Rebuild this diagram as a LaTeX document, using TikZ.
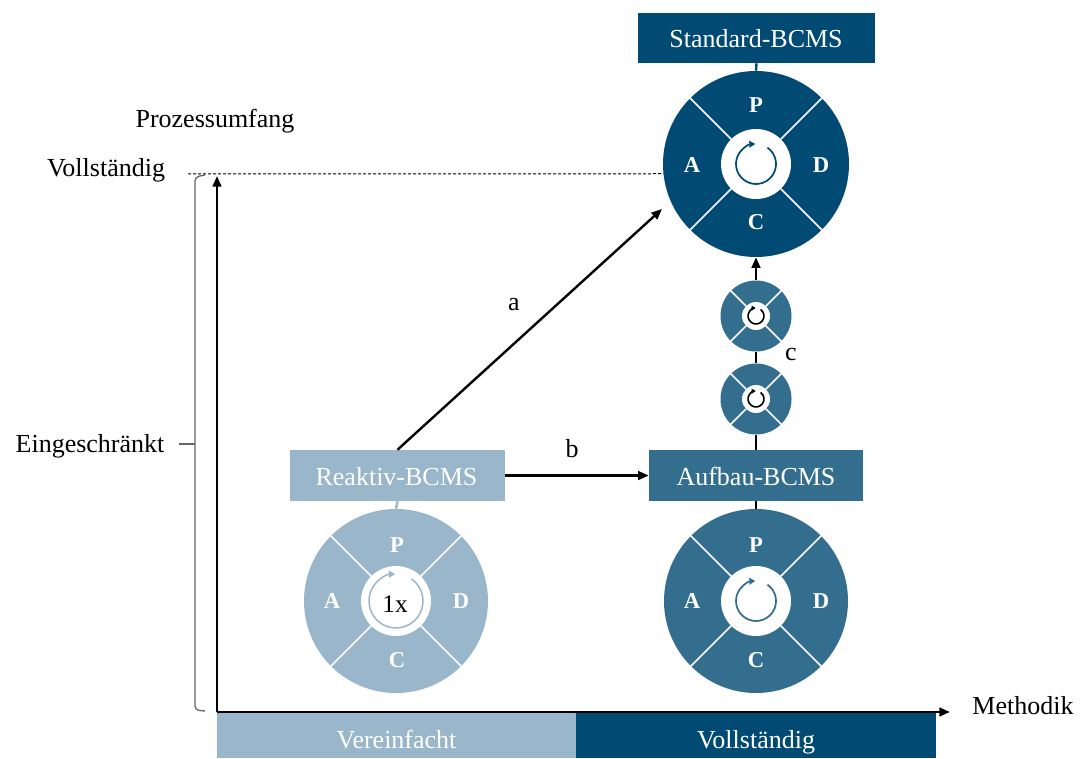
\documentclass[tikz,border=0pt]{standalone}
\usepackage{fontspec}
\setmainfont{Liberation Serif}
\usetikzlibrary{arrows.meta,calc}
\definecolor{bdark}{HTML}{004A73}
\definecolor{bmid}{HTML}{336E8F}
\definecolor{blight}{HTML}{99B6CA}
\definecolor{brgray}{HTML}{666666}
\begin{document}
\begin{tikzpicture}[x=0.75pt,y=0.75pt,
  txt/.style={font=\fontsize{19.5}{23}\selectfont, inner sep=0},
  boxlbl/.style={txt, text=white, minimum height=38.25pt},
  wheel/.style={circle, inner sep=0, draw=none},
  letr/.style={text=white, font=\bfseries\fontsize{17}{19}\selectfont, inner sep=0, anchor=base},
  divider/.style={white, line width=1.1pt},
  conn/.style={line width=1.8pt},
  arr/.style={line width=1.8pt, -{Triangle[length=8pt,width=6.5pt]}},
  cyc/.style={line width=1.3pt, -{Triangle[length=4.5pt,width=5pt]}},
]
\useasboundingbox (0,0) rectangle (1087,758);

% bottom bars
\fill[blight] (217,0) rectangle (576,45);
\fill[bdark] (576,0) rectangle (936,45);
\node[txt,text=white,anchor=base] (vereinf) at (396.5,10) {Vereinfacht};
\node[txt,text=white,anchor=base] (vollb) at (756,10) {Vollständig};

% axes
\coordinate (orig) at (217,46);
\coordinate (ytip) at (217,582);
\coordinate (xtip) at (950,46);
\draw[line width=1.8pt,-{Triangle[length=8pt,width=6.5pt]}] (orig) -- (ytip);
\draw[line width=1.8pt,-{Triangle[length=8pt,width=6.5pt]}] (orig) -- (xtip);

% axis labels
\node[txt,anchor=base] (prozess) at (215,630) {Prozessumfang};
\node[txt,anchor=base] (vollst) at (106,581) {Vollständig};
\node[txt,anchor=base] (einge) at (90,306) {Eingeschränkt};
\node[txt,anchor=base] (methodik) at (1023,44) {Methodik};

% bracket
\coordinate (brtop) at (205,583);
\coordinate (brbot) at (205,47);
\coordinate (brmid) at (195,314);
\coordinate (brtick) at (179,314);
\draw[brgray, line width=1pt, rounded corners=3pt] (brtop) -- (195,581) -- (195,48) -- (brbot);
\draw[brgray, line width=1pt] (brmid) -- (brtick);

% boxes
\node[boxlbl, fill=bdark, minimum width=177.75pt, minimum height=37.5pt] (stdbox) at (756.5,720) {};
\node[txt,text=white,anchor=base] (stdtxt) at (756,710) {Standard-BCMS};
\node[boxlbl, fill=blight, minimum width=161.25pt] (reabox) at (397.5,282.5) {};
\node[txt,text=white,anchor=base] (reatxt) at (396.5,273) {Reaktiv-BCMS};
\node[boxlbl, fill=bmid, minimum width=160.5pt] (aufbox) at (756,282.5) {};
\node[txt,text=white,anchor=base] (auftxt) at (756,273) {Aufbau-BCMS};

% wheels
\node[wheel, fill=bdark, minimum size=139.5pt] (topc) at (756,594) {};
\node[wheel, fill=bmid, minimum size=53.25pt] (sm1) at (756,442) {};
\node[wheel, fill=bmid, minimum size=53.25pt] (sm2) at (756,359) {};
\node[wheel, fill=blight, minimum size=138pt] (reac) at (396,157) {};
\node[wheel, fill=bmid, minimum size=138pt] (aufc) at (756,157) {};

% dividers and inner discs
\foreach \c/\ri/\ro in {topc/35/93.5, reac/35/92.5, aufc/35/92.5, sm1/14/36, sm2/14/36} {
  \foreach \a in {45,135,225,315}
    \draw[divider] (\c.center) ++(\a:\ri) -- ++(\a:{\ro-\ri});
  \fill[white] (\c.center) circle[radius=\ri];
}

% cycle arrows
\draw[cyc, bdark] (topc.center) ++(55:20) arc[start angle=55, end angle=-268, radius=20];
\draw[cyc, bmid] (aufc.center) ++(55:20) arc[start angle=55, end angle=-268, radius=20];
\draw[cyc, blight, line width=1.1pt] (reac.center) ++(55:27) arc[start angle=55, end angle=-268, radius=27];
\draw[line width=1.2pt, -{Triangle[length=3pt,width=3.5pt]}, black] (sm1.center) ++(55:8) arc[start angle=55, end angle=-268, radius=8];
\draw[line width=1.2pt, -{Triangle[length=3pt,width=3.5pt]}, black] (sm2.center) ++(55:8) arc[start angle=55, end angle=-268, radius=8];
\node[font=\fontsize{19}{22}\selectfont, inner sep=0, anchor=base] (onex) at (395,146) {1x};

% letters
\node[letr] (tP) at ($(topc.center)+(0,51)$) {P};
\node[letr] (tD) at ($(topc.center)+(65,-9)$) {D};
\node[letr] (tC) at ($(topc.center)+(0,-66)$) {C};
\node[letr] (tA) at ($(topc.center)+(-64,-9)$) {A};
\node[letr] (rP) at ($(reac.center)+(1,49)$) {P};
\node[letr] (rD) at ($(reac.center)+(65,-7)$) {D};
\node[letr] (rC) at ($(reac.center)+(1,-66)$) {C};
\node[letr] (rA) at ($(reac.center)+(-64,-7)$) {A};
\node[letr] (aP) at ($(aufc.center)+(0,49)$) {P};
\node[letr] (aD) at ($(aufc.center)+(65,-7)$) {D};
\node[letr] (aC) at ($(aufc.center)+(0,-66)$) {C};
\node[letr] (aA) at ($(aufc.center)+(-64,-7)$) {A};

% connectors
\draw[conn, bdark] (stdbox.south) -- (topc.north);
\draw[conn, blight] (reabox.south) -- (reac.north);
\draw[conn] (aufbox.south) -- (aufc.north);
\draw[arr] (sm1.north) -- (topc.south);
\draw[conn] (sm1.south) -- (sm2.north);
\draw[conn] (sm2.south) -- (aufbox.north);
\draw[arr] (reabox.east) -- (aufbox.west);
\coordinate (aend) at (662,549);
\draw[arr] (reabox.north) -- (aend);
\draw[line width=0.75pt, dash pattern=on 2.25pt off 1.5pt] (188,584) -- (topc.186);

% connector labels
\node[txt,anchor=base] (la) at (514,448) {a};
\node[txt,anchor=base] (lb) at (572,301) {b};
\node[txt,anchor=base] (lc) at (791,398) {c};
\end{tikzpicture}
\end{document}
